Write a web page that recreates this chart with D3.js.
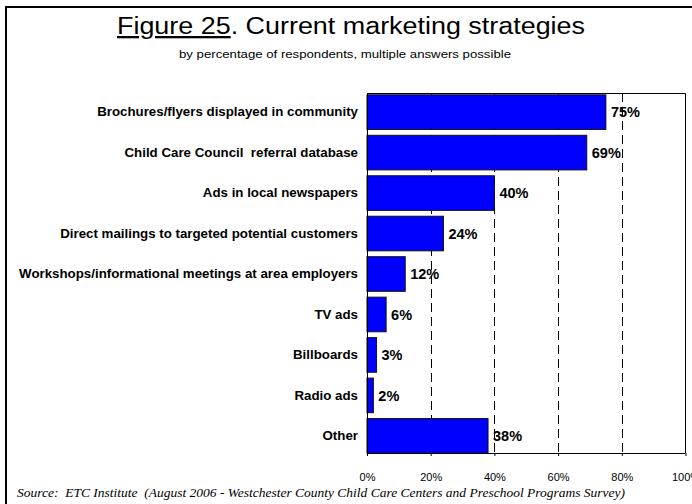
<!DOCTYPE html>
<html>
<head>
<meta charset="utf-8">
<script src="https://cdn.jsdelivr.net/npm/d3@7"></script>
<style>
  html, body { margin: 0; padding: 0; background: #fff; }
  svg { display: block; }
</style>
</head>
<body>
<svg id="chart" width="692" height="504"></svg>
<script>
// Survey results: share of respondents using each marketing strategy
const categories = [
  "Brochures/flyers displayed in community",
  "Child Care Council  referral database",
  "Ads in local newspapers",
  "Direct mailings to targeted potential customers",
  "Workshops/informational meetings at area employers",
  "TV ads",
  "Billboards",
  "Radio ads",
  "Other"
];
const values = [75, 69, 40, 24, 12, 6, 3, 2, 38];
const xTicks = [0, 20, 40, 60, 80, 100];
const gridTicks = [20, 40, 60, 80];

const svg = d3.select("#chart");
const sans = "Arial, 'Liberation Sans', sans-serif";

// Outer frame
svg.append("rect")
  .attr("x", 6).attr("y", 7)
  .attr("width", 720).attr("height", 540)
  .attr("fill", "none").attr("stroke", "#000").attr("stroke-width", 2);

// Title with underlined figure number
const title = svg.append("text")
  .attr("x", 351).attr("y", 34)
  .attr("text-anchor", "middle")
  .attr("font-family", sans).attr("font-size", 23)
  .attr("textLength", 468).attr("lengthAdjust", "spacingAndGlyphs")
  .attr("fill", "#000");
title.append("tspan").attr("text-decoration", "underline").text("Figure 25");
title.append("tspan").text(". Current marketing strategies");

svg.append("text")
  .attr("x", 345).attr("y", 58)
  .attr("text-anchor", "middle")
  .attr("font-family", sans).attr("font-size", 11.5)
  .attr("textLength", 332).attr("lengthAdjust", "spacingAndGlyphs")
  .attr("fill", "#000")
  .text("by percentage of respondents, multiple answers possible");

// Plot area
const plot = { left: 367, right: 685.5, top: 93, bottom: 453 };

const x = d3.scaleLinear().domain([0, 100]).range([plot.left, plot.right]);
const y = d3.scaleBand().domain(categories)
  .range([92, 456]).paddingInner(0.145).paddingOuter(0.07);

// Dashed gridlines
svg.append("g").selectAll("line").data(gridTicks).join("line")
  .attr("x1", d => Math.round(x(d)) + 0.5).attr("x2", d => Math.round(x(d)) + 0.5)
  .attr("y1", plot.top).attr("y2", plot.bottom)
  .attr("stroke", "#000").attr("stroke-width", 1)
  .attr("stroke-dasharray", "9,5");

// Plot frame (top and right)
svg.append("path")
  .attr("d", `M${plot.left},${plot.top + 0.5}H${plot.right}V${plot.bottom}`)
  .attr("fill", "none").attr("stroke", "#000").attr("stroke-width", 1);

// Bars
svg.append("g").selectAll("rect").data(values).join("rect")
  .attr("x", x(0))
  .attr("y", (d, i) => y(categories[i]))
  .attr("width", d => x(d) - x(0))
  .attr("height", y.bandwidth())
  .attr("fill", "#0000FF")
  .attr("stroke", "#111").attr("stroke-width", 1);

// Value labels
svg.append("g").selectAll("text").data(values).join("text")
  .attr("x", d => x(d) + 5)
  .attr("y", (d, i) => y(categories[i]) + y.bandwidth() / 2)
  .attr("dy", "0.36em")
  .attr("font-family", sans).attr("font-size", 14.5).attr("font-weight", "bold")
  .attr("fill", "#000")
  .text(d => d + "%");

// Category axis
const yAxis = d3.axisLeft(y).tickSize(0).tickPadding(9);
const gy = svg.append("g").attr("transform", `translate(${plot.left},0)`).call(yAxis);
gy.select(".domain").attr("d", `M0.5,${plot.top}V${plot.bottom}`).attr("stroke", "#000");
gy.selectAll("text")
  .attr("font-family", sans).attr("font-size", 13.3).attr("font-weight", "bold")
  .attr("fill", "#000")
  .style("white-space", "pre");

// Value axis
const xAxis = d3.axisBottom(x).tickValues(xTicks).tickFormat(d => d + "%")
  .tickSize(3).tickPadding(17);
const gx = svg.append("g").attr("transform", `translate(0,${plot.bottom})`).call(xAxis);
gx.select(".domain").attr("d", `M${plot.left},0.5H${plot.right}`).attr("stroke", "#000");
gx.selectAll("line").attr("stroke", "#000");
gx.selectAll("text")
  .attr("font-family", sans).attr("font-size", 11).attr("fill", "#000");

// Source note
svg.append("text")
  .attr("x", 17).attr("y", 497)
  .attr("font-family", "'Times New Roman', 'Liberation Serif', serif")
  .attr("font-style", "italic").attr("font-size", 13)
  .attr("textLength", 608).attr("lengthAdjust", "spacingAndGlyphs")
  .attr("fill", "#000")
  .style("white-space", "pre")
  .text("Source:  ETC Institute  (August 2006 - Westchester County Child Care Centers and Preschool Programs Survey)");
</script>
</body>
</html>
